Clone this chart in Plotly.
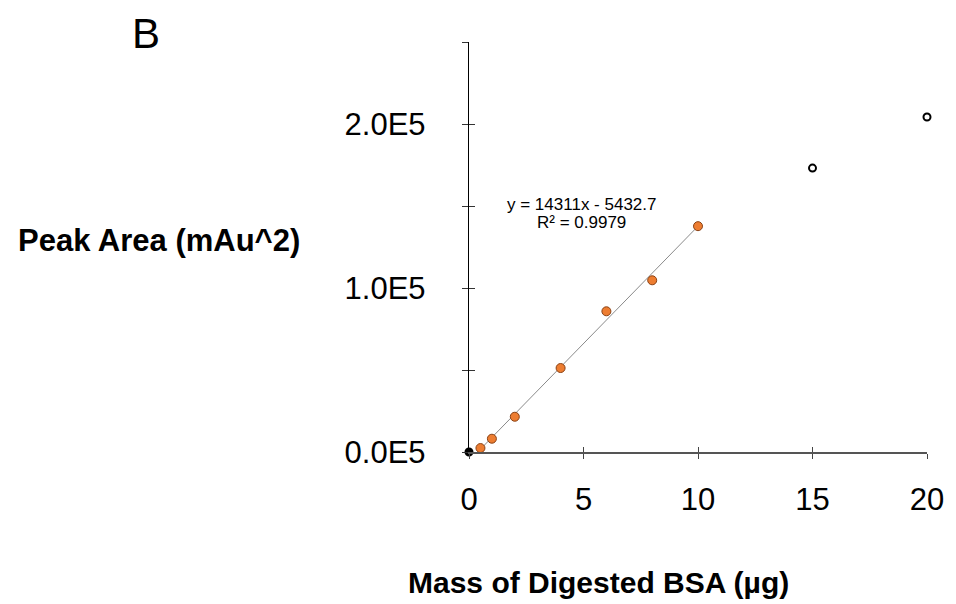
import plotly.graph_objects as go

# Calibration data: digested BSA mass vs. peak area
mass_ug = [0.5, 1, 2, 4, 6, 8, 10]
peak_area = [2400, 8100, 21500, 51200, 85800, 104700, 137700]

# Points outside the linear range (plus the blank at the origin)
mass_out = [0, 15, 20]
area_out = [0, 173100, 204300]
fill_out = ["black", "white", "white"]

# Linear fit reported on the chart
slope = 14311
intercept = -5432.7
r_squared = 0.9979
fit_x = [0, 10]

x_ticks = [0, 5, 10, 15, 20]
x_tick_text = ["0", "5", "10", "15", "20"]
y_ticks = [0, 50000, 100000, 150000, 200000, 250000]
y_tick_text = ["0.0E5", "", "1.0E5", "", "2.0E5", ""]

FONT = "Liberation Sans, Arial, sans-serif"

fig = go.Figure()

fig.add_trace(go.Scatter(
    x=fit_x, y=[slope * v + intercept for v in fit_x],
    mode="lines", line=dict(color="#8a8a8a", width=1),
    hoverinfo="skip", showlegend=False,
))
fig.add_trace(go.Scatter(
    x=mass_ug, y=peak_area, mode="markers",
    marker=dict(symbol="circle", size=9, color="#ED7D31",
                line=dict(color="#8a4215", width=1)),
    cliponaxis=False, showlegend=False,
))
fig.add_trace(go.Scatter(
    x=mass_out, y=area_out, mode="markers",
    marker=dict(symbol="circle", size=7, color=fill_out,
                line=dict(color="black", width=2)),
    cliponaxis=False, showlegend=False,
))
# empty trace so the overlay axes (inner tick halves) are drawn
fig.add_trace(go.Scatter(x=[], y=[], xaxis="x2", yaxis="y2",
                         showlegend=False, hoverinfo="skip"))

fig.update_layout(
    width=956, height=604, autosize=False,
    margin=dict(l=469, r=29, t=42, b=152),
    paper_bgcolor="white", plot_bgcolor="white",
    font=dict(family=FONT, color="black"),
    xaxis=dict(
        range=[0, 20], tickvals=x_ticks, ticktext=x_tick_text,
        ticks="outside", ticklen=5, tickwidth=1.3, tickcolor="#444",
        showline=True, linecolor="#555", linewidth=1.6,
        showgrid=False, zeroline=False,
        tickfont=dict(family=FONT, size=31, color="black"),
        ticklabelstandoff=14,
    ),
    yaxis=dict(
        range=[0, 250000], tickvals=y_ticks, ticktext=y_tick_text,
        ticks="outside", ticklen=6, tickwidth=1.3, tickcolor="#333",
        showline=True, linecolor="black", linewidth=1.4,
        showgrid=False, zeroline=False,
        tickfont=dict(family=FONT, size=31, color="black"),
        ticklabelstandoff=30,
    ),
    xaxis2=dict(
        range=[0, 20], tickvals=x_ticks, showticklabels=False,
        ticks="inside", ticklen=5, tickwidth=1.3, tickcolor="#444",
        overlaying="x", anchor="y", showline=False,
        showgrid=False, zeroline=False,
    ),
    yaxis2=dict(
        range=[0, 250000], tickvals=y_ticks, showticklabels=False,
        ticks="inside", ticklen=6, tickwidth=1.3, tickcolor="#333",
        overlaying="y", anchor="x", showline=False,
        showgrid=False, zeroline=False,
    ),
)

annotations = [
    dict(text="B", x=-0.705, y=1.02, xref="paper", yref="paper",
         xanchor="center", yanchor="middle", showarrow=False,
         font=dict(family=FONT, size=42)),
    dict(text="<b>Peak Area (mAu^2)</b>", x=-0.3646, y=0.515,
         xref="paper", yref="paper", xanchor="right", yanchor="middle",
         showarrow=False, font=dict(family=FONT, size=31)),
    dict(text="<b>Mass of Digested BSA (µg)</b>", x=0.2817, y=-0.318,
         xref="paper", yref="paper", xanchor="center", yanchor="middle",
         showarrow=False, font=dict(family=FONT, size=30)),
    dict(text=f"y = {slope}x - {abs(intercept)}", x=4.92, y=150800,
         xref="x", yref="y", xanchor="center", yanchor="middle",
         showarrow=False, font=dict(family=FONT, size=17)),
    dict(text=f"R² = {r_squared}", x=4.92, y=139900,
         xref="x", yref="y", xanchor="center", yanchor="middle",
         showarrow=False, font=dict(family=FONT, size=17)),
]
fig.update_layout(annotations=annotations)

fig.write_html("out.html")
